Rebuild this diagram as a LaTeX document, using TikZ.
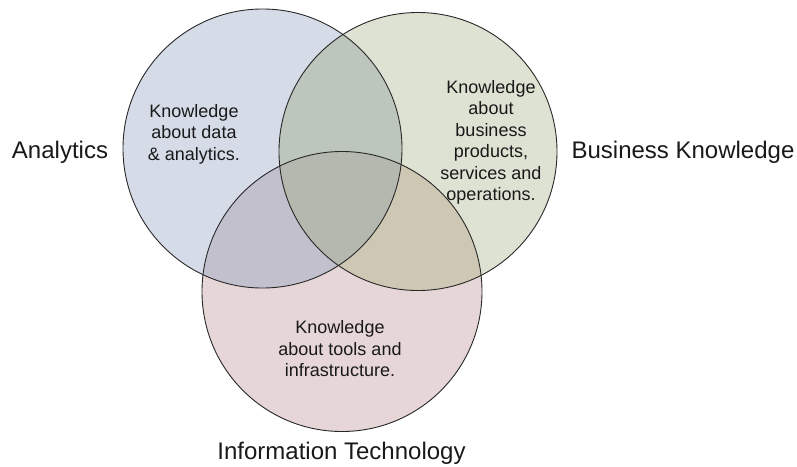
\documentclass[tikz,border=0pt]{standalone}
\usepackage{fontspec}
\setmainfont{Liberation Sans}
\definecolor{cA}{RGB}{213,220,232}
\definecolor{cB}{RGB}{222,226,211}
\definecolor{cI}{RGB}{230,214,215}
\definecolor{cAB}{RGB}{188,198,188}
\definecolor{cAI}{RGB}{195,192,206}
\definecolor{cBI}{RGB}{205,199,180}
\definecolor{cABI}{RGB}{180,184,174}
\definecolor{cline}{RGB}{40,40,40}
\begin{document}
\begin{tikzpicture}[x=1pt,y=-1pt,
  intext/.style={align=center,inner sep=0pt,font=\fontsize{18}{21.5}\selectfont,text=black!90},
  label/.style={inner sep=0pt,font=\fontsize{24}{28}\selectfont,text=black!90},
  ring/.style={draw=cline,line width=0.9pt}]
\useasboundingbox (0,0) rectangle (797,466);
\def\Ac{(262.5,148.5) circle [radius=139.5pt]}
\def\Bc{(418,151.5) circle [radius=139pt]}
\def\Ic{(342,291.5) circle [radius=140pt]}
\fill[cA] \Ac;
\fill[cB] \Bc;
\fill[cI] \Ic;
\begin{scope}\clip \Ac; \fill[cAB] \Bc; \end{scope}
\begin{scope}\clip \Ac; \fill[cAI] \Ic; \end{scope}
\begin{scope}\clip \Bc; \fill[cBI] \Ic; \end{scope}
\begin{scope}\clip \Ac; \clip \Bc; \fill[cABI] \Ic; \end{scope}
\draw[ring] \Ac;
\draw[ring] \Bc;
\draw[ring] \Ic;
\node[intext] (ta) at (194,134) {Knowledge\\about data\\\& analytics.};
\node[intext] (tb) at (491,142.5) {Knowledge\\about\\business\\products,\\services and\\operations.};
\node[intext] (ti) at (340,349) {Knowledge\\about tools and\\infrastructure.};
\node[label] (la) at (60,152) {Analytics};
\node[label] (lb) at (683,152) {Business Knowledge};
\node[label] (li) at (341.5,453) {Information Technology};
\end{tikzpicture}
\end{document}
